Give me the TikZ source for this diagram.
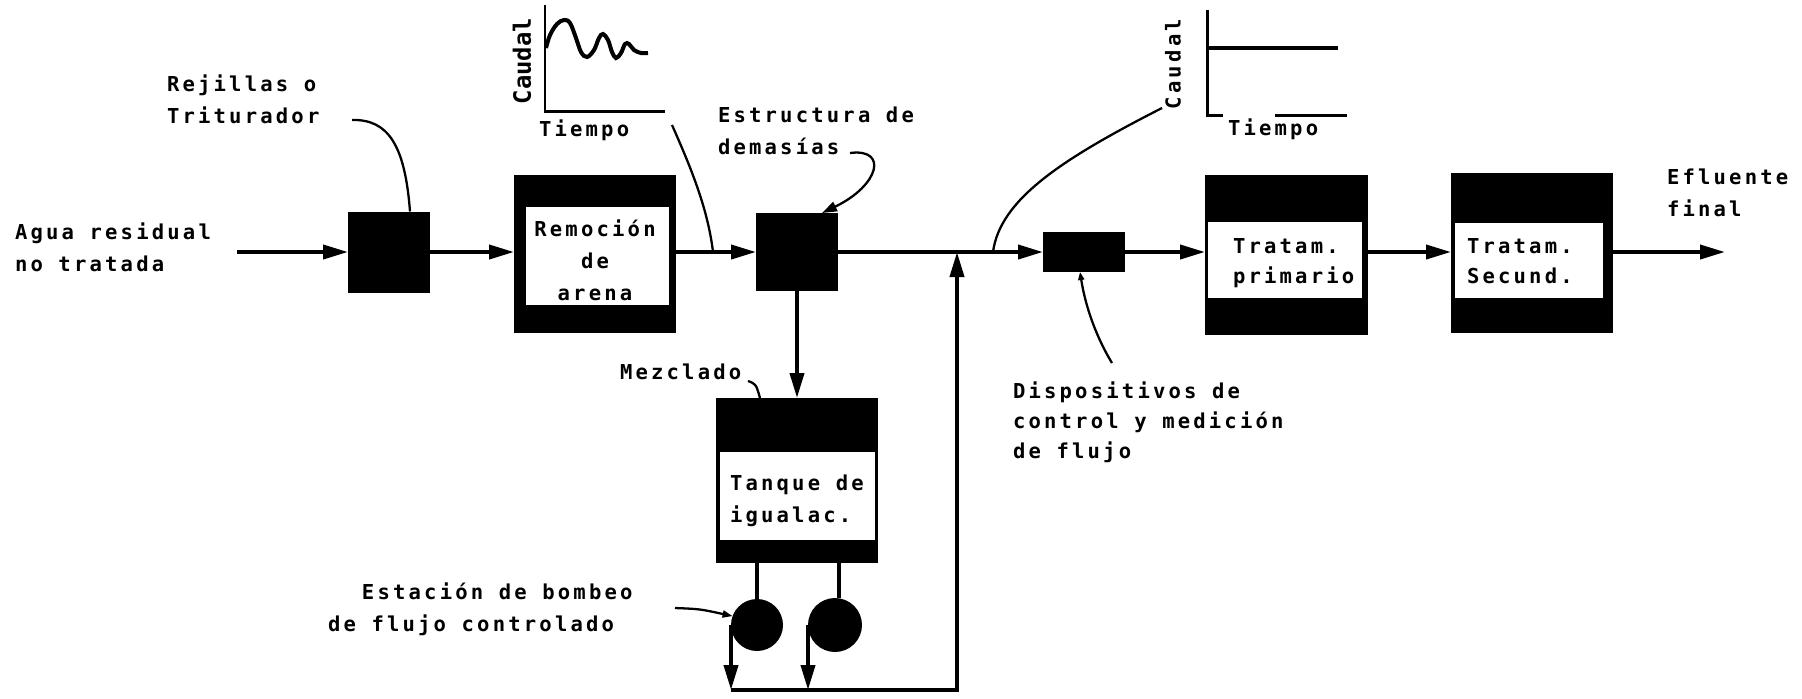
\documentclass[tikz,border=0pt]{standalone}
\usepackage{fontspec}
\usetikzlibrary{arrows.meta}
\newfontfamily\tyfamily[LetterSpace=15.5]{DejaVu Sans Mono}
\newfontfamily\tyfamilyn{DejaVu Sans Mono}
\newcommand\tyf{\tyfamily\bfseries\fontsize{11.7pt}{18.15pt}\selectfont}
\newcommand\tyn{\tyfamilyn\bfseries\fontsize{13.6pt}{18.15pt}\selectfont}
\newcommand\tyd{\tyfamily\bfseries\fontsize{11.7pt}{17pt}\selectfont}
\begin{document}
\begin{tikzpicture}[x=0.02cm,y=-0.02cm,
  blk/.style={fill=black, draw=none, inner sep=0, outer sep=0, rectangle},
  wht/.style={fill=white, draw=none, inner sep=0, outer sep=0, rectangle},
  lbl/.style={font=\tyf, inner sep=0, outer sep=0, align=left, anchor=north west},
  pump/.style={circle, fill=black, inner sep=0, outer sep=0},
  flow/.style={line width=2.2pt, -{Triangle[length=0.5cm,width=0.28cm]}},
  pipe/.style={line width=2.2pt},
  lead/.style={line width=1.3pt},
  leadarr/.style={line width=1.3pt, -{Triangle[length=0.3cm,width=0.2cm]}},
  axis/.style={line width=1.7pt},
]
\useasboundingbox (0,0) rectangle (1802,698);

% --- process units ---
\node[blk, minimum width=1.64cm, minimum height=1.62cm] (b1) at (389,252) {};
\node[blk, minimum width=3.24cm, minimum height=3.16cm] (b2) at (595,254) {};
\node[wht, minimum width=2.86cm, minimum height=1.96cm] (w2) at (597.5,256) {};
\node[blk, minimum width=1.64cm, minimum height=1.56cm] (b3) at (797,252) {};
\node[blk, minimum width=3.24cm, minimum height=3.30cm] (tk) at (797,480.5) {};
\node[wht, minimum width=3.10cm, minimum height=1.76cm] (wt) at (797.5,496) {};
\node[blk, minimum width=1.64cm, minimum height=0.80cm] (cb) at (1084,252) {};
\node[blk, minimum width=3.26cm, minimum height=3.20cm] (b4) at (1286.5,255) {};
\node[wht, minimum width=3.08cm, minimum height=1.52cm] (w4) at (1285,260) {};
\node[blk, minimum width=3.24cm, minimum height=3.20cm] (b5) at (1532,253) {};
\node[wht, minimum width=2.96cm, minimum height=1.50cm] (w5) at (1529,260.5) {};
\node[pump, minimum size=1.04cm] (p1) at (757,625) {};
\node[pump, minimum size=1.08cm] (p2) at (835,625) {};

% --- texts in units ---
\node[lbl, anchor=north, align=center] (trem) at (595,214.6) {\strut Remoción\\de\\arena};
\node[lbl] (ttq) at (730,468) {\strut Tanque de\\igualac.};
\node[lbl, font=\tyd] (tpri) at (1233,233) {\strut Tratam.\\primario};
\node[lbl, font=\tyd] (tsec) at (1467,233) {\strut Tratam.\\Secund.};

% --- labels ---
\node[lbl] (agua) at (15,217.6) {\strut Agua residual\\no tratada};
\node[lbl] (rej) at (167,69.6) {\strut Rejillas o\\Triturador};
\node[lbl] (est) at (718,100.6) {\strut Estructura de\\demasías};
\node[lbl] (mez) at (620,357) {\strut Mezclado};
\node[lbl] (bomb) at (328,577) {\strut\hspace*{0.68cm}Estación de bombeo\\de flujo controlado};
\node[lbl, font=\tyd] (disp) at (1013,377.6) {\strut Dispositivos de\\control y medición\\de flujo};
\node[lbl] (efl) at (1667,162.6) {\strut Efluente\\final};

% --- flow graphs ---
\draw[axis] (545,5) -- (545,111) -- (665,111);
\draw[line width=2.3pt] plot[smooth, tension=0.6] coordinates {(546,48) (550,35) (557,24) (564,20) (570,23) (576,38) (581,52) (587,57) (594,50) (599,38) (603,34) (608,40) (612,52) (616,58) (621,53) (625,44) (629,44) (634,50) (641,53) (648,53)};
\node[inner sep=0, font=\tyn, rotate=90] (c1) at (522,61) {Caudal};
\node[lbl] (t1) at (539,114) {\strut Tiempo};

\draw[axis] (1207,10) -- (1207,115) -- (1223,115);
\draw[axis] (1275,115) -- (1347,115);
\draw[line width=2pt] (1207,48) -- (1338,48);
\node[inner sep=0, font=\tyf, rotate=90] (c2) at (1173,64) {Caudal};
\node[lbl] (t2) at (1228,113.6) {\strut Tiempo};

% --- main flow ---
\coordinate (in) at (237,252);
\coordinate (out) at (1725,252);
\coordinate (jn) at (957,252);
\coordinate (bc) at (957,690);
\draw[flow] (in) -- (b1.west);
\draw[flow] (b1.east) -- (b1.east -| b2.west);
\draw[flow] (b2.east |- in) -- (b3.west);
\draw[flow] (b3.east) -- (cb.west);
\draw[flow] (cb.east) -- (cb.east -| b4.west);
\draw[flow] (b4.east |- in) -- (b5.west |- in);
\draw[flow] (b5.east |- in) -- (out);
\draw[flow] (b3.south) -- (tk.north);

% --- equalization and pumps ---
\draw[pipe] (p1.north |- tk.south) -- (p1.north);
\draw[pipe] ([xshift=0.08cm]p2.north |- tk.south) -- ([xshift=0.08cm]p2.north);
\draw[flow] (p1.west) -- (p1.west |- bc);
\draw[flow] (p2.west) -- (p2.west |- bc);
\draw[flow] (p1.west |- bc) -- (bc) -- (jn);

% --- leaders ---
\coordinate (l1s) at (352,120);
\draw[lead] (l1s) .. controls (388,119) and (405,145) .. ([xshift=0.42cm]b1.north);
\coordinate (g1s) at (672,125);
\coordinate (g1e) at (713,252);
\draw[lead] (g1s) .. controls (692,170) and (708,210) .. (g1e);
\coordinate (l3s) at (850,153);
\draw[leadarr] (l3s) .. controls (888,148) and (880,185) .. ([xshift=0.5cm]b3.north);
\coordinate (g2s) at (1162,108);
\coordinate (g2e) at (993,252);
\draw[lead] (g2s) .. controls (1060,160) and (1000,200) .. (g2e);
\coordinate (l5e) at (1112,363);
\draw[lead, {Triangle[length=0.16cm,width=0.12cm]}-] ([xshift=-0.08cm]cb.south) .. controls (1086,310) and (1098,340) .. (l5e);
\coordinate (l6s) at (748,381);
\draw[lead] (l6s) .. controls (756,384) .. ([xshift=-0.74cm]tk.north);
\coordinate (l7s) at (675,608);
\draw[lead, -{Triangle[length=0.2cm,width=0.14cm]}] (l7s) .. controls (700,609) .. (p1.160);
\end{tikzpicture}
\end{document}
